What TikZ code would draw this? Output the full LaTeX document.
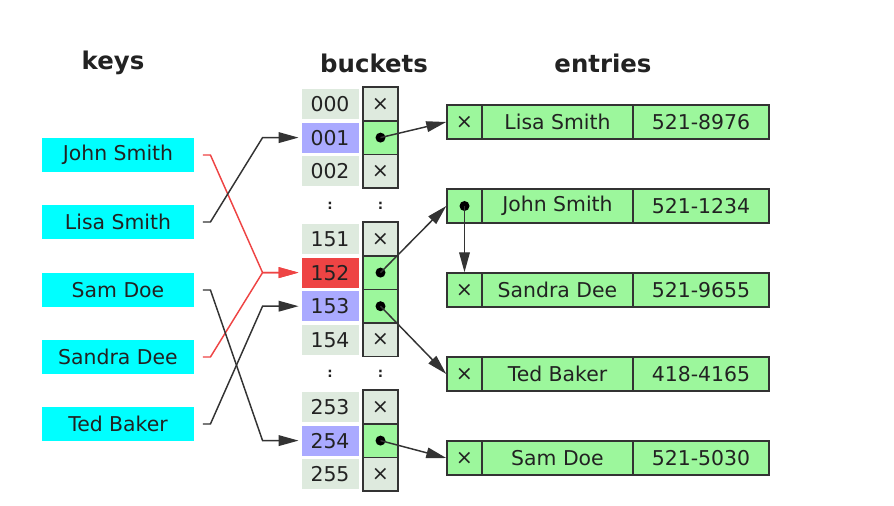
\documentclass[tikz,border=0pt]{standalone}
\usepackage{fontspec}
\setmainfont{DejaVu Sans}
\usepackage{xcolor}
\usetikzlibrary{arrows.meta,positioning,calc}
\definecolor{keycyan}{HTML}{00FFFF}
\definecolor{cellgrey}{HTML}{DEEADE}
\definecolor{cellgreen}{HTML}{9CF79C}
\definecolor{hitblue}{HTML}{AAAAFF}
\definecolor{hitred}{HTML}{EE4444}
\definecolor{edge}{HTML}{333333}
\definecolor{ink}{HTML}{222222}

\tikzset{
  key/.style = {fill = keycyan, text = ink, minimum width = 114pt, minimum height = 25.5pt, inner sep = 0pt},
  num/.style = {fill = cellgrey, text = ink, minimum width = 42.75pt, minimum height = 22.5pt, inner sep = 0pt},
  ptr/.style = {draw = edge, line width = 1.1pt, fill = cellgrey, text = ink, minimum width = 26.25pt, minimum height = 25.2pt, inner sep = 0pt},
  cell/.style = {draw = edge, line width = 1.1pt, fill = cellgreen, text = ink, minimum height = 25.5pt, inner sep = 0pt},
  title/.style = {font = \fontsize{18.3}{22}\selectfont\bfseries, text = ink},
  link/.style = {line width = 1.1pt, color = edge, -{Triangle[length = 15pt, width = 8pt]}, shorten > = 2pt},
  dot/.style = {fill = black}
}

\begin{document}
\begin{tikzpicture}[x = 0.75pt, y = -0.75pt, font = \fontsize{15.3}{18}\selectfont]
\useasboundingbox (0,0) rectangle (894,506);

% titles
\node[title] (tkeys) at (113,63) {keys};
\node[title] (tbuckets) at (374,63) {buckets};
\node[title] (tentries) at (603,63) {entries};

% keys
\node[key] (kjohn) at (118,155) {John Smith};
\node[key] (klisa) at (118,222) {Lisa Smith};
\node[key] (ksam) at (118,290) {Sam Doe};
\node[key] (ksandra) at (118,357) {Sandra Dee};
\node[key] (kted) at (118,424) {Ted Baker};

% buckets
\foreach \n/\y/\c/\p in {000/104/cellgrey/x, 001/137.6/hitblue/o, 002/171.2/cellgrey/x,
    151/239/cellgrey/x, 152/272.6/hitred/o, 153/306.2/hitblue/o, 154/339.8/cellgrey/x,
    253/407/cellgrey/x, 254/440.6/hitblue/o, 255/474.2/cellgrey/x} {
  \node[num, fill = \c] (n\n) at (330,\y) {\n};
  \if\p x
    \node[ptr] (p\n) at (380.5,\y) {×};
  \else
    \node[ptr, fill = cellgreen] (p\n) at (380.5,\y) {};
    \fill[dot] (p\n) circle (5);
  \fi
}
\node[text = ink, font = \bfseries] (c1a) at (330,206) {:};
\node[text = ink, font = \bfseries] (c1b) at (380.5,206) {:};
\node[text = ink, font = \bfseries] (c2a) at (330,374) {:};
\node[text = ink, font = \bfseries] (c2b) at (380.5,374) {:};

% entries
\foreach \e/\y/\name/\tel in {lisa/122/Lisa Smith/521-8976, john/206/John Smith/521-1234,
    sandra/290/Sandra Dee/521-9655, ted/374/Ted Baker/418-4165, sam/458/Sam Doe/521-5030} {
  \node[cell, minimum width = 26.25pt] (e\e) at (464.5,\y) {×};
  \node[cell, minimum width = 113.25pt] (m\e) at (557.5,\y) {\name};
  \node[cell, minimum width = 102pt] (t\e) at (701,\y) {\tel};
}
% pointer in the John Smith entry
\node[cell, minimum width = 26.25pt] (ejohn) at (464.5,206) {};
\fill[dot] (ejohn) circle (5);

% hashing
\draw[link, color = hitred] ([xshift = 6.5pt]kjohn.east) -- ++(7.5,0) -- ([xshift = -29pt]n152.west) -- (n152.west);
\draw[link, color = hitred] ([xshift = 6.5pt]ksandra.east) -- ++(7.5,0) -- ([xshift = -29pt]n152.west) -- (n152.west);
\draw[link] ([xshift = 6.5pt]klisa.east) -- ++(7.5,0) -- ([xshift = -29pt]n001.west) -- (n001.west);
\draw[link] ([xshift = 6.5pt]ksam.east) -- ++(7.5,0) -- ([xshift = -29pt]n254.west) -- (n254.west);
\draw[link] ([xshift = 6.5pt]kted.east) -- ++(7.5,0) -- ([xshift = -29pt]n153.west) -- (n153.west);

% chains
\draw[link, shorten > = 0pt] (p001.center) -- (elisa.west);
\draw[link, shorten > = 0pt] (p152.center) -- (ejohn.west);
\draw[link, shorten > = 0pt] (p153.center) -- (eted.west);
\draw[link, shorten > = 0pt] (p254.center) -- (esam.west);
\draw[link, shorten > = 0pt] (ejohn.center) -- (esandra.north);
\end{tikzpicture}
\end{document}
